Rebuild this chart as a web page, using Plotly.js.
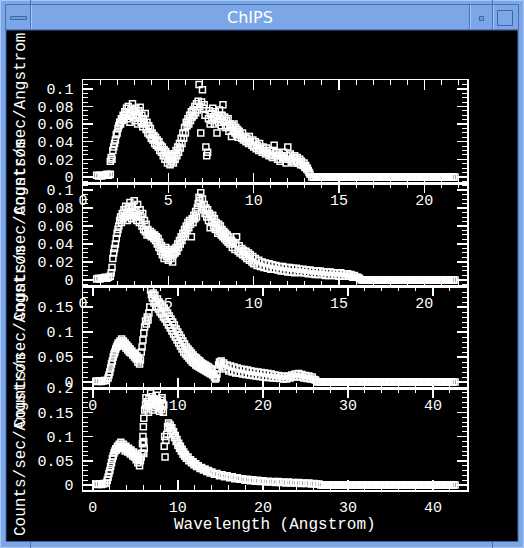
<!DOCTYPE html>
<html><head><meta charset="utf-8">
<script src="https://cdn.plot.ly/plotly-3.0.1.min.js"></script>
<style>html,body{margin:0;padding:0;background:#7ba7e8;overflow:hidden}#chart{width:524px;height:548px}</style>
</head><body><div id="chart"></div>
<script>
// ---------- DATA ----------
const windowTitle = "ChIPS";
const xTitle = "Wavelength (Angstrom)";
const yTitle = "Counts/sec/Angstrom";

// Panel 1 (wavelength, counts/sec/Angstrom)
const x1 = [0.8,0.9,1.0,1.1,1.2,1.3,1.4,1.5,1.6,1.6,
1.65,1.7,1.75,1.8,1.85,1.9,1.95,2.0,2.05,2.1,
2.15,2.2,2.25,2.3,2.35,2.4,2.45,2.5,2.55,2.6,
2.65,2.7,2.75,2.8,2.85,2.9,2.95,3.0,3.05,3.1,
3.15,3.2,3.25,3.3,3.35,3.4,3.45,3.5,3.55,3.6,
3.65,3.7,3.75,3.8,3.85,3.9,3.95,4.0,4.05,4.1,
4.15,4.2,4.25,4.3,4.35,4.4,4.45,4.5,4.55,4.6,
4.65,4.7,4.75,4.8,4.85,4.9,4.95,5.0,5.05,5.1,
5.15,5.2,5.25,5.3,5.35,5.4,5.45,5.5,5.55,5.6,
5.65,5.7,5.75,5.8,5.85,5.9,5.95,6.0,6.05,6.1,
6.15,6.2,6.25,6.3,6.35,6.4,6.45,6.5,6.55,6.6,
6.65,6.7,6.75,6.8,6.85,6.9,6.95,7.0,7.05,7.1,
7.15,7.2,7.25,7.3,7.35,7.4,7.45,7.5,7.55,7.6,
7.65,7.7,7.75,7.8,7.85,7.9,7.95,8.0,8.05,8.1,
8.15,8.2,8.25,8.3,8.35,8.4,8.45,8.5,8.55,8.6,
8.65,8.7,8.75,8.8,8.85,8.9,8.95,9.0,9.05,9.1,
9.15,9.2,9.3,9.35,9.4,9.5,9.55,9.6,9.7,9.75,
9.8,9.9,9.95,10.0,10.1,10.15,10.2,10.3,10.35,10.4,
10.5,10.55,10.6,10.7,10.75,10.8,10.9,10.95,11.0,11.1,
11.15,11.2,11.3,11.35,11.4,11.5,11.55,11.6,11.7,11.75,
11.8,11.9,11.95,12.0,12.1,12.15,12.2,12.3,12.35,12.4,
12.5,12.55,12.6,12.7,12.75,12.8,12.9,12.95,13.0,13.05,
13.1,13.15,13.2,13.25,13.3];
const y1 = [0.002,0.001,0.002,0.001,0.002,0.002,0.003,0.002,0.003,0.018,
0.022,0.02,0.03,0.034,0.038,0.042,0.048,0.05,0.055,0.058,
0.062,0.06,0.066,0.064,0.07,0.068,0.074,0.071,0.078,0.066,
0.08,0.072,0.062,0.076,0.07,0.083,0.068,0.074,0.064,0.078,
0.07,0.06,0.075,0.067,0.079,0.062,0.07,0.057,0.066,0.06,
0.072,0.054,0.062,0.05,0.058,0.048,0.055,0.044,0.05,0.042,
0.047,0.038,0.045,0.036,0.042,0.034,0.04,0.03,0.036,0.028,
0.034,0.024,0.031,0.02,0.029,0.024,0.016,0.026,0.02,0.014,
0.024,0.018,0.022,0.016,0.026,0.02,0.03,0.024,0.034,0.028,
0.038,0.033,0.044,0.038,0.05,0.044,0.056,0.05,0.062,0.058,
0.066,0.06,0.07,0.064,0.074,0.068,0.076,0.07,0.08,0.073,
0.083,0.076,0.086,0.105,0.08,0.05,0.085,0.099,0.078,0.082,
0.07,0.034,0.024,0.028,0.066,0.075,0.06,0.072,0.064,0.078,
0.068,0.06,0.074,0.066,0.05,0.07,0.062,0.076,0.066,0.058,
0.07,0.082,0.062,0.068,0.056,0.064,0.058,0.066,0.052,0.06,
0.056,0.046,0.058,0.052,0.06,0.05,0.056,0.048,0.054,0.045,
0.052,0.048,0.044,0.05,0.042,0.046,0.04,0.044,0.038,0.046,
0.04,0.036,0.042,0.034,0.04,0.032,0.036,0.03,0.038,0.032,
0.028,0.034,0.03,0.026,0.033,0.028,0.024,0.03,0.026,0.022,
0.03,0.036,0.024,0.028,0.02,0.026,0.018,0.024,0.02,0.028,
0.022,0.016,0.024,0.034,0.02,0.026,0.018,0.022,0.016,0.024,
0.018,0.022,0.016,0.02,0.014,0.018,0.013,0.016,0.011,0.013,
0.009,0.01,0.007,0.005,0.003];
const flatX1 = [13.4,13.5,13.6,13.7,13.8,13.9,14.0,14.1,14.2,14.3,
14.4,14.5,14.6,14.7,14.8,14.9,15.0,15.1,15.2,15.3,
15.4,15.5,15.6,15.7,15.8,15.9,16.0,16.1,16.2,16.3,
16.4,16.5,16.6,16.7,16.8,16.9,17.0,17.1,17.2,17.3,
17.4,17.5,17.6,17.7,17.8,17.9,18.0,18.1,18.2,18.3,
18.4,18.5,18.6,18.7,18.8,18.9,19.0,19.1,19.2,19.3,
19.4,19.5,19.6,19.7,19.8,19.9,20.0,20.1,20.2,20.3,
20.4,20.5,20.6,20.7,20.8,20.9,21.0,21.1,21.2,21.3,
21.4,21.5,21.6,21.7,21.8];
const flatY1 = [0,0,0,0,0,0,0,0,0,0, 0,0,0,0,0,0,0,0,0,0, 0,0,0,0,0,0,0,0,0,0,
0,0,0,0,0,0,0,0,0,0, 0,0,0,0,0,0,0,0,0,0, 0,0,0,0,0,0,0,0,0,0,
0,0,0,0,0,0,0,0,0,0, 0,0,0,0,0,0,0,0,0,0, 0,0,0,0,0];

// Panel 2
const x2 = [0.8,0.9,1.0,1.1,1.2,1.3,1.4,1.5,1.6,1.65,
1.7,1.75,1.8,1.85,1.9,1.95,2.0,2.05,2.1,2.15,
2.2,2.25,2.3,2.35,2.4,2.45,2.5,2.55,2.6,2.65,
2.7,2.75,2.8,2.85,2.9,2.95,3.0,3.05,3.1,3.15,
3.2,3.25,3.3,3.35,3.4,3.45,3.5,3.55,3.6,3.65,
3.7,3.75,3.8,3.85,3.9,3.95,4.0,4.05,4.1,4.15,
4.2,4.25,4.3,4.35,4.4,4.45,4.5,4.55,4.6,4.65,
4.7,4.75,4.8,4.85,4.9,4.95,5.0,5.05,5.1,5.15,
5.2,5.25,5.3,5.35,5.4,5.45,5.5,5.55,5.6,5.65,
5.7,5.75,5.8,5.85,5.9,5.95,6.0,6.05,6.1,6.15,
6.2,6.25,6.3,6.35,6.4,6.45,6.5,6.55,6.6,6.65,
6.7,6.75,6.8,6.85,6.9,6.95,7.0,7.05,7.1,7.15,
7.2,7.25,7.3,7.35,7.4,7.45,7.5,7.55,7.6,7.65,
7.7,7.75,7.8,7.85,7.9,7.95,8.0,8.05,8.1,8.15,
8.2,8.25,8.3,8.35,8.4,8.45,8.5,8.55,8.6,8.7,
8.75,8.8,8.9,8.95,9.0,9.1,9.15,9.2,9.3,9.35,
9.4,9.5,9.55,9.6,9.7,9.75,9.8,9.9,9.95,10.0,
10.1,10.2,10.3,10.4,10.5,10.6,10.7,10.8,10.9,11.0,
11.1,11.2,11.3,11.4,11.5,11.6,11.7,11.8,11.9,12.0,
12.1,12.2,12.3,12.4,12.5,12.6,12.7,12.8,12.9,13.0,
13.1,13.2,13.3,13.4,13.5,13.6,13.7,13.8,13.9,14.0,
14.1,14.2,14.3,14.4,14.5,14.6,14.7,14.8,14.9,15.0,
15.1,15.2,15.3,15.4,15.5,15.6,15.7,15.8,15.9,16.0,
16.1,16.2];
const y2 = [0.001,0.002,0.001,0.002,0.002,0.003,0.002,0.003,0.004,0.008,
0.014,0.024,0.03,0.035,0.04,0.046,0.052,0.056,0.06,0.066,
0.07,0.064,0.074,0.068,0.078,0.07,0.082,0.074,0.066,0.08,
0.072,0.086,0.076,0.068,0.082,0.074,0.088,0.07,0.078,0.066,
0.084,0.072,0.064,0.078,0.07,0.06,0.074,0.056,0.066,0.054,
0.062,0.05,0.056,0.052,0.05,0.054,0.048,0.052,0.05,0.046,
0.05,0.044,0.048,0.04,0.046,0.036,0.042,0.032,0.038,0.028,
0.034,0.024,0.03,0.036,0.026,0.032,0.022,0.028,0.034,0.024,
0.03,0.02,0.028,0.034,0.03,0.036,0.032,0.04,0.036,0.044,
0.04,0.048,0.044,0.052,0.048,0.056,0.052,0.06,0.055,0.064,
0.058,0.066,0.062,0.048,0.068,0.064,0.072,0.068,0.076,0.07,
0.08,0.085,0.092,0.088,0.097,0.082,0.09,0.078,0.084,0.074,
0.08,0.07,0.078,0.066,0.074,0.058,0.07,0.064,0.072,0.06,
0.068,0.056,0.064,0.058,0.052,0.062,0.054,0.06,0.05,0.056,
0.048,0.054,0.046,0.052,0.044,0.05,0.042,0.048,0.04,0.044,
0.036,0.042,0.034,0.04,0.048,0.032,0.038,0.03,0.035,0.028,
0.033,0.026,0.032,0.024,0.03,0.022,0.028,0.02,0.026,0.018,
0.024,0.016,0.022,0.015,0.02,0.014,0.019,0.013,0.018,0.012,
0.017,0.012,0.016,0.011,0.015,0.01,0.015,0.01,0.014,0.009,
0.014,0.009,0.013,0.008,0.013,0.009,0.012,0.008,0.012,0.008,
0.011,0.007,0.011,0.007,0.01,0.006,0.01,0.006,0.01,0.006,
0.009,0.005,0.009,0.005,0.009,0.005,0.008,0.005,0.008,0.004,
0.008,0.004,0.007,0.004,0.007,0.004,0.006,0.003,0.005,0.003,
0.003,0.002];
const flatX2 = [16.3,16.4,16.5,16.6,16.7,16.8,16.9,17.0,17.1,17.2,
17.3,17.4,17.5,17.6,17.7,17.8,17.9,18.0,18.1,18.2,
18.3,18.4,18.5,18.6,18.7,18.8,18.9,19.0,19.1,19.2,
19.3,19.4,19.5,19.6,19.7,19.8,19.9,20.0,20.1,20.2,
20.3,20.4,20.5,20.6,20.7,20.8,20.9,21.0,21.1,21.2,
21.3,21.4,21.5,21.6,21.7,21.8];
const flatY2 = [0,0,0,0,0,0,0,0,0,0, 0,0,0,0,0,0,0,0,0,0, 0,0,0,0,0,0,0,0,0,0,
0,0,0,0,0,0,0,0,0,0, 0,0,0,0,0,0,0,0,0,0, 0,0,0,0,0,0];

// Panel 3
const x3 = [0.4,0.6,0.8,1.0,1.2,1.4,1.6,1.8,1.9,2.0,
2.1,2.2,2.3,2.4,2.5,2.6,2.7,2.8,2.9,3.0,
3.1,3.2,3.3,3.4,3.5,3.6,3.7,3.8,3.9,4.0,
4.1,4.2,4.3,4.4,4.5,4.6,4.7,4.8,4.9,5.0,
5.1,5.2,5.3,5.4,5.5,5.6,5.7,5.8,5.9,6.0,
6.1,6.2,6.3,6.4,6.5,6.6,6.7,6.8,6.9,7.0,
7.1,7.2,7.3,7.4,7.5,7.6,7.7,7.8,7.9,8.0,
8.1,8.2,8.3,8.4,8.5,8.6,8.7,8.8,8.9,9.0,
9.1,9.2,9.3,9.4,9.5,9.6,9.7,9.8,9.9,10.0,
10.1,10.2,10.3,10.4,10.5,10.6,10.7,10.8,10.9,11.0,
11.1,11.2,11.3,11.4,11.5,11.6,11.7,11.8,11.9,12.0,
12.1,12.2,12.3,12.4,12.5,12.6,12.7,12.8,12.9,13.0,
13.1,13.2,13.3,13.4,13.5,13.6,13.7,13.8,13.9,14.0,
14.1,14.2,14.3,14.4,14.5,14.6,14.7,14.8,14.9,15.0,
15.1,15.2,15.4,15.6,15.8,16.0,16.2,16.4,16.6,16.8,
17.0,17.2,17.4,17.6,17.8,18.0,18.2,18.4,18.6,18.8,
19.0,19.2,19.4,19.6,19.8,20.0,20.2,20.4,20.6,20.8,
21.0,21.2,21.4,21.6,21.8,22.0,22.2,22.4,22.6,22.8,
23.0,23.2,23.4,23.6,23.8,24.0,24.2,24.4,24.6,24.8,
25.0,25.2,25.4,25.6,25.8,26.0,26.2];
const y3 = [0.002,0.001,0.002,0.001,0.002,0.003,0.003,0.008,0.014,0.02,
0.028,0.036,0.042,0.05,0.056,0.06,0.066,0.07,0.074,0.078,
0.072,0.082,0.076,0.086,0.078,0.082,0.072,0.078,0.068,0.074,
0.064,0.07,0.06,0.066,0.058,0.062,0.054,0.058,0.05,0.056,
0.046,0.052,0.04,0.048,0.036,0.044,0.06,0.07,0.084,0.098,
0.11,0.122,0.116,0.13,0.124,0.138,0.15,0.184,0.175,0.168,
0.178,0.158,0.174,0.162,0.15,0.166,0.146,0.16,0.14,0.156,
0.136,0.152,0.13,0.148,0.126,0.142,0.12,0.138,0.114,0.132,
0.108,0.126,0.102,0.12,0.096,0.114,0.09,0.106,0.084,0.1,
0.078,0.094,0.072,0.088,0.066,0.082,0.06,0.076,0.056,0.07,
0.052,0.066,0.048,0.062,0.044,0.058,0.04,0.054,0.038,0.05,
0.034,0.048,0.032,0.044,0.03,0.042,0.028,0.038,0.026,0.036,
0.024,0.034,0.022,0.032,0.02,0.03,0.018,0.027,0.016,0.024,
0.014,0.016,0.01,0.006,0.008,0.016,0.026,0.034,0.04,0.036,
0.042,0.03,0.038,0.026,0.034,0.022,0.032,0.02,0.03,0.018,
0.028,0.018,0.026,0.016,0.025,0.015,0.024,0.014,0.022,0.013,
0.021,0.012,0.02,0.011,0.019,0.01,0.018,0.009,0.017,0.009,
0.016,0.008,0.014,0.008,0.013,0.007,0.012,0.006,0.011,0.006,
0.012,0.008,0.014,0.01,0.016,0.011,0.017,0.01,0.015,0.008,
0.013,0.007,0.012,0.006,0.01,0.005,0.004];
const flatX3 = [26.4,26.6,26.8,27.0,27.2,27.4,27.6,27.8,28.0,28.2,
28.4,28.6,28.8,29.0,29.2,29.4,29.6,29.8,30.0,30.2,
30.4,30.6,30.8,31.0,31.2,31.4,31.6,31.8,32.0,32.2,
32.4,32.6,32.8,33.0,33.2,33.4,33.6,33.8,34.0,34.2,
34.4,34.6,34.8,35.0,35.2,35.4,35.6,35.8,36.0,36.2,
36.4,36.6,36.8,37.0,37.2,37.4,37.6,37.8,38.0,38.2,
38.4,38.6,38.8,39.0,39.2,39.4,39.6,39.8,40.0,40.2,
40.4,40.6,40.8,41.0,41.2,41.4,41.6,41.8,42.0,42.2,
42.4,42.6];
const flatY3 = [0,0,0,0,0,0,0,0,0,0, 0,0,0,0,0,0,0,0,0,0, 0,0,0,0,0,0,0,0,0,0,
0,0,0,0,0,0,0,0,0,0, 0,0,0,0,0,0,0,0,0,0, 0,0,0,0,0,0,0,0,0,0,
0,0,0,0,0,0,0,0,0,0, 0,0,0,0,0,0,0,0,0,0, 0,0];

// Panel 4
const x4 = [0.4,0.6,0.8,1.0,1.2,1.4,1.6,1.7,1.8,1.9,
2.0,2.1,2.2,2.3,2.4,2.5,2.6,2.7,2.8,2.9,
3.0,3.1,3.2,3.3,3.4,3.5,3.6,3.7,3.8,3.9,
4.0,4.1,4.2,4.3,4.4,4.5,4.6,4.7,4.8,4.9,
5.0,5.1,5.2,5.3,5.4,5.5,5.6,5.7,5.8,5.85,
5.9,5.95,6.0,6.0,6.0,6.05,6.1,6.2,6.25,6.3,
6.4,6.5,6.55,6.6,6.7,6.8,6.9,7.0,7.05,7.1,
7.2,7.3,7.4,7.45,7.5,7.6,7.7,7.8,7.85,7.9,
8.0,8.1,8.15,8.2,8.3,8.35,8.4,8.45,8.5,8.6,
8.7,8.8,8.9,9.0,9.1,9.2,9.3,9.4,9.5,9.6,
9.7,9.8,9.9,10.0,10.1,10.2,10.3,10.4,10.5,10.6,
10.7,10.8,10.9,11.0,11.2,11.3,11.5,11.6,11.8,11.9,
12.1,12.2,12.4,12.6,12.8,13.0,13.2,13.4,13.6,13.8,
14.0,14.3,14.6,14.9,15.2,15.5,15.8,16.1,16.4,16.7,
17.0,17.3,17.6,17.9,18.2,18.5,18.8,19.1,19.4,19.7,
20.0,20.3,20.6,20.9,21.2,21.5,21.8,22.1,22.4,22.7,
23.0,23.3,23.6,23.9,24.2,24.5,24.8,25.1,25.4,25.7,
26.0,26.3,26.6];
const y4 = [0.002,0.001,0.002,0.001,0.002,0.003,0.004,0.01,0.016,0.024,
0.03,0.038,0.046,0.054,0.06,0.066,0.07,0.075,0.072,0.08,
0.076,0.084,0.078,0.088,0.08,0.076,0.084,0.078,0.07,0.08,
0.074,0.068,0.076,0.07,0.064,0.072,0.066,0.06,0.068,0.058,
0.064,0.052,0.06,0.046,0.054,0.04,0.05,0.058,0.066,0.085,
0.1,0.12,0.138,0.09,0.065,0.076,0.155,0.165,0.18,0.158,
0.172,0.162,0.15,0.178,0.166,0.19,0.174,0.182,0.155,0.168,
0.178,0.16,0.172,0.185,0.164,0.176,0.158,0.17,0.152,0.162,
0.175,0.156,0.18,0.168,0.15,0.165,0.08,0.1,0.058,0.092,
0.105,0.12,0.128,0.118,0.124,0.112,0.118,0.106,0.11,0.098,
0.102,0.09,0.094,0.082,0.086,0.076,0.08,0.07,0.074,0.064,
0.068,0.06,0.063,0.055,0.058,0.05,0.052,0.046,0.048,0.042,
0.044,0.038,0.04,0.034,0.036,0.031,0.033,0.028,0.03,0.025,
0.027,0.022,0.024,0.019,0.021,0.017,0.019,0.015,0.017,0.013,
0.015,0.012,0.013,0.01,0.012,0.009,0.011,0.008,0.01,0.007,
0.009,0.006,0.008,0.006,0.007,0.005,0.007,0.005,0.006,0.004,
0.006,0.004,0.005,0.004,0.005,0.003,0.004,0.003,0.004,0.002,
0.003,0.002,0.002];
const flatX4 = [26.8,27.0,27.2,27.4,27.6,27.8,28.0,28.2,28.4,28.6,
28.8,29.0,29.2,29.4,29.6,29.8,30.0,30.2,30.4,30.6,
30.8,31.0,31.2,31.4,31.6,31.8,32.0,32.2,32.4,32.6,
32.8,33.0,33.2,33.4,33.6,33.8,34.0,34.2,34.4,34.6,
34.8,35.0,35.2,35.4,35.6,35.8,36.0,36.2,36.4,36.6,
36.8,37.0,37.2,37.4,37.6,37.8,38.0,38.2,38.4,38.6,
38.8,39.0,39.2,39.4,39.6,39.8,40.0,40.2,40.4,40.6,
40.8,41.0,41.2,41.4,41.6,41.8,42.0,42.2,42.4,42.6];
const flatY4 = [0,0,0,0,0,0,0,0,0,0, 0,0,0,0,0,0,0,0,0,0, 0,0,0,0,0,0,0,0,0,0,
0,0,0,0,0,0,0,0,0,0, 0,0,0,0,0,0,0,0,0,0, 0,0,0,0,0,0,0,0,0,0,
0,0,0,0,0,0,0,0,0,0, 0,0,0,0,0,0,0,0,0,0];

// ---------- LAYOUT ----------
const W = 524, H = 548;
const px = v => v / W;
const py = v => 1 - v / H;
const FG = '#ffffff';
const tickFont = {family: 'Liberation Mono, DejaVu Sans Mono, monospace', size: 15, color: FG};
const titleFont = {family: 'Liberation Mono, DejaVu Sans Mono, monospace', size: 16, color: FG};

function xAxis(range, dtick, minorDtick, anchor) {
  return {
    domain: [px(83), px(467)], range: range, anchor: anchor,
    tickmode: 'linear', tick0: 0, dtick: dtick,
    ticks: 'inside', ticklen: 10, tickwidth: 1.5, tickcolor: FG,
    mirror: 'allticks', showline: true, linecolor: FG, linewidth: 1.5,
    showgrid: false, zeroline: false, automargin: false,
    tickfont: tickFont, ticklabelstandoff: 2,
    minor: {dtick: minorDtick, tick0: 0, ticks: 'inside', ticklen: 5, tickwidth: 1, tickcolor: FG, showgrid: false}
  };
}
function yAxis(range, dtick, minorDtick, top, bottom, anchor) {
  return {
    domain: [py(bottom), py(top)], range: range, anchor: anchor,
    tickmode: 'linear', tick0: 0, dtick: dtick,
    ticks: 'inside', ticklen: 10, tickwidth: 1.5, tickcolor: FG,
    mirror: 'allticks', showline: true, linecolor: FG, linewidth: 1.5,
    showgrid: false, zeroline: false, automargin: false,
    tickfont: tickFont, ticklabelstandoff: 5,
    minor: {dtick: minorDtick, tick0: 0, ticks: 'inside', ticklen: 5, tickwidth: 1, tickcolor: FG, showgrid: false}
  };
}

const marker = {symbol: 'square-open', size: 6, color: FG, line: {width: 1.5, color: FG}};
function tr(x, y, xa, ya) {
  return {type: 'scatter', mode: 'markers', x: x, y: y, xaxis: xa, yaxis: ya, marker: marker, hoverinfo: 'skip', showlegend: false};
}
const data = [
  tr(x1.concat(flatX1), y1.concat(flatY1), 'x', 'y'),
  tr(x2.concat(flatX2), y2.concat(flatY2), 'x2', 'y2'),
  tr(x3.concat(flatX3), y3.concat(flatY3), 'x3', 'y3'),
  tr(x4.concat(flatX4), y4.concat(flatY4), 'x4', 'y4')
];

function rect(x0, y0, x1, y1, fill, line, lw) {
  return {type: 'rect', xref: 'paper', yref: 'paper', layer: 'below',
    x0: px(x0), x1: px(x1), y0: py(y1), y1: py(y0),
    fillcolor: fill || 'rgba(0,0,0,0)', line: {color: line || 'rgba(0,0,0,0)', width: lw === undefined ? 1 : lw}};
}
function vline(x, y0, y1, color) {
  return {type: 'line', xref: 'paper', yref: 'paper', layer: 'below',
    x0: px(x), x1: px(x), y0: py(y1), y1: py(y0), line: {color: color, width: 1}};
}
const DARK = '#4a72b4', LIGHT = '#a9c7f4', BAR = '#7ba7e8';
const shapes = [
  rect(0.5, 0.5, 523.5, 547.5, null, LIGHT, 1),
  rect(5.5, 4.5, 518.5, 30, BAR, DARK, 1),
  vline(30.5, 5, 30, DARK), vline(31.5, 5, 30, LIGHT),
  vline(469.5, 5, 30, DARK), vline(470.5, 5, 30, LIGHT),
  vline(492.5, 5, 30, DARK), vline(493.5, 5, 30, LIGHT),
  vline(30.5, 0, 4, DARK), vline(492.5, 0, 4, DARK),
  vline(30.5, 542, 548, DARK), vline(492.5, 542, 548, DARK),
  rect(10.5, 16.5, 26.5, 19.5, '#6d9be2', '#3f66a6', 1),
  rect(479.5, 16.5, 483.5, 20.5, '#6d9be2', '#3f66a6', 1),
  rect(497.5, 10.5, 512.5, 25.5, null, '#3f66a6', 1),
  rect(6, 30, 518, 541.5, '#000000', '#3f66a6', 1)
];

function yLabel(center) {
  return {xref: 'paper', yref: 'paper', x: px(21), y: py(center), xanchor: 'center', yanchor: 'middle',
    text: yTitle, textangle: -90, showarrow: false, font: titleFont};
}
const annotations = [
  {xref: 'paper', yref: 'paper', x: px(250), y: py(17.5), xanchor: 'center', yanchor: 'middle',
   text: windowTitle, showarrow: false, font: {family: 'DejaVu Sans, sans-serif', size: 16, color: FG}},
  yLabel(124), yLabel(230), yLabel(337), yLabel(445),
  {xref: 'paper', yref: 'paper', x: px(275), y: py(525), xanchor: 'center', yanchor: 'middle',
   text: xTitle, showarrow: false, font: titleFont}
];

const layout = {
  width: W, height: H, margin: {l: 0, r: 0, t: 0, b: 0, pad: 0},
  paper_bgcolor: BAR, plot_bgcolor: '#000000', showlegend: false,
  xaxis: xAxis([0, 22.5], 5, 1, 'y'),
  yaxis: yAxis([-0.0068, 0.110], 0.02, 0.005, 80, 183, 'x'),
  xaxis2: xAxis([0, 22.5], 5, 1, 'y2'),
  yaxis2: yAxis([-0.0067, 0.1078], 0.02, 0.005, 183, 286, 'x2'),
  xaxis3: xAxis([-1.15, 44.0], 10, 2, 'y3'),
  yaxis3: yAxis([-0.012, 0.192], 0.05, 0.01, 286, 388, 'x3'),
  xaxis4: xAxis([-1.15, 44.0], 10, 2, 'y4'),
  yaxis4: yAxis([-0.0103, 0.2002], 0.05, 0.01, 388, 490, 'x4'),
  shapes: shapes, annotations: annotations
};

Plotly.newPlot('chart', data, layout, {displayModeBar: false, staticPlot: true});
</script>
</body></html>
